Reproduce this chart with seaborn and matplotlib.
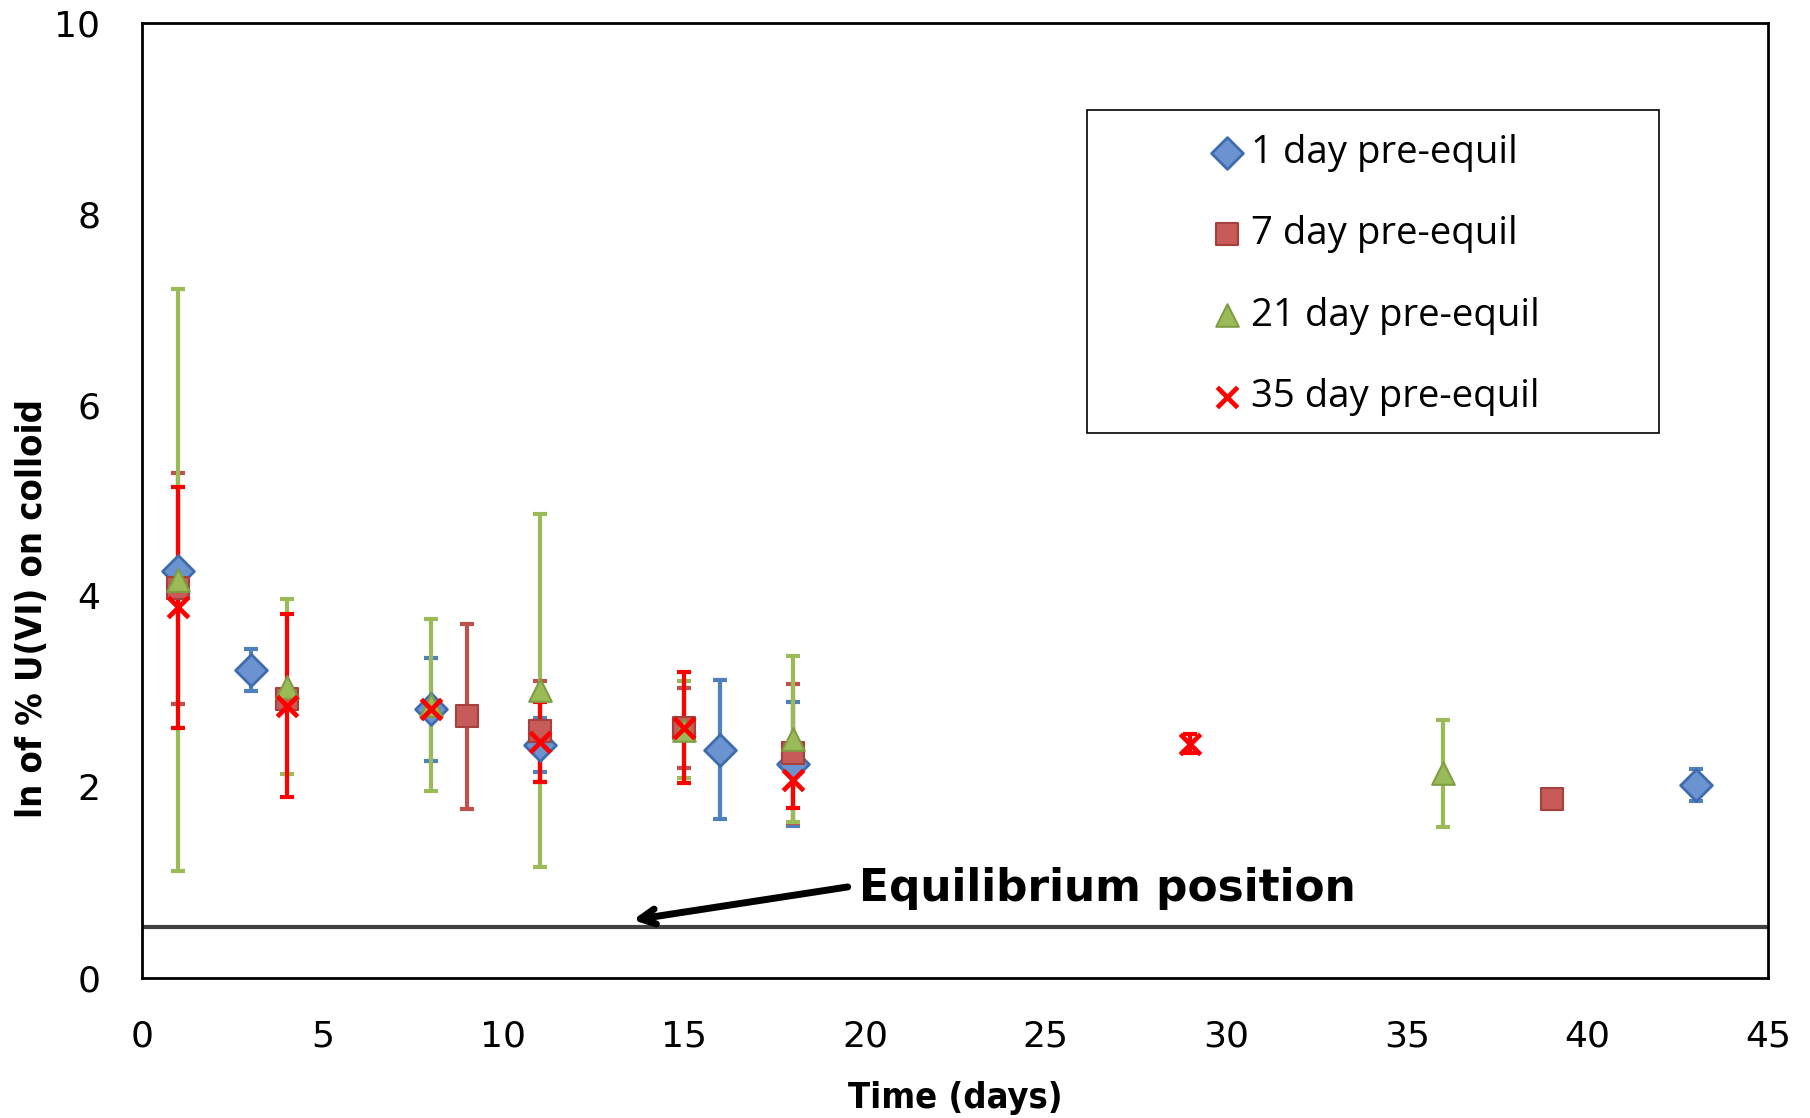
import matplotlib
matplotlib.use("Agg")
import matplotlib.pyplot as plt
from matplotlib.patches import Rectangle
import seaborn as sns
import pandas as pd

# ---- data ----
series_names = ["1 day pre-equil", "7 day pre-equil", "21 day pre-equil", "35 day pre-equil"]

days_1 = [1, 3, 8, 11, 16, 18, 43]
vals_1 = [4.26, 3.22, 2.81, 2.44, 2.39, 2.24, 2.02]
errs_1 = [0.08, 0.22, 0.54, 0.28, 0.73, 0.65, 0.17]

days_7 = [1, 4, 9, 11, 15, 18, 39]
vals_7 = [4.08, 2.92, 2.74, 2.58, 2.62, 2.35, 1.87]
errs_7 = [1.21, 0.08, 0.97, 0.53, 0.42, 0.73, 0.05]

days_21 = [1, 4, 8, 11, 15, 18, 36]
vals_21 = [4.17, 3.05, 2.86, 3.01, 2.60, 2.50, 2.14]
errs_21 = [3.05, 0.92, 0.90, 1.85, 0.51, 0.87, 0.56]

days_35 = [1, 4, 8, 11, 15, 18, 29]
vals_35 = [3.88, 2.85, 2.82, 2.47, 2.62, 2.07, 2.45]
errs_35 = [1.26, 0.96, 0.05, 0.42, 0.58, 0.29, 0.10]

equilibrium = 0.53
x_ticks = [0, 5, 10, 15, 20, 25, 30, 35, 40, 45]
y_ticks = [0, 2, 4, 6, 8, 10]

# ---- style ----
sns.set_theme(style="white")
plt.rcParams["font.family"] = ["DejaVu Sans"]
plt.rcParams["text.color"] = "black"

fig = plt.figure(figsize=(18.10, 11.18), dpi=100)
ax = fig.add_axes([0.0785, 0.1255, 0.8985, 0.8538])

styles = [
    dict(marker="D", s=262, fc="#6A93CF", ec="#3E6CAE", lw=2.0, bar="#4F81BD"),
    dict(marker="s", s=240, fc="#C65B58", ec="#A5403D", lw=1.5, bar="#C0504D"),
    dict(marker="^", s=265, fc="#9BBB59", ec="#7F9E44", lw=1.5, bar="#9BBB59"),
    dict(marker="x", s=215, fc="#FF0000", ec="#FF0000", lw=3.4, bar="#FF0000"),
]

all_days = [days_1, days_7, days_21, days_35]
all_vals = [vals_1, vals_7, vals_21, vals_35]
all_errs = [errs_1, errs_7, errs_21, errs_35]

# error bars first (beneath all markers)
for d, v, e, st in zip(all_days, all_vals, all_errs, styles):
    ax.errorbar(d, v, yerr=e, fmt="none", ecolor=st["bar"], elinewidth=3,
                capsize=5, capthick=3, zorder=2)

# markers
for name, d, v, st in zip(series_names, all_days, all_vals, styles):
    df = pd.DataFrame({"day": d, "val": v})
    if st["marker"] == "x":
        sns.scatterplot(data=df, x="day", y="val", marker="x", s=st["s"],
                        color=st["fc"], linewidth=st["lw"], label=name,
                        ax=ax, zorder=4)
    else:
        sns.scatterplot(data=df, x="day", y="val", marker=st["marker"], s=st["s"],
                        color=st["fc"], edgecolor=st["ec"], linewidth=st["lw"],
                        label=name, ax=ax, zorder=3)

ax.axhline(equilibrium, color="#404040", lw=3, zorder=1)

ax.annotate("", xy=(13.5, 0.60), xytext=(19.6, 0.955),
            arrowprops=dict(arrowstyle="->,head_length=0.9,head_width=0.45",
                            color="black", lw=5))
ax.text(19.85, 0.93, "Equilibrium position", fontsize=31.6, fontweight="bold",
        ha="left", va="center", color="black")

ax.set_xlim(0, 45)
ax.set_ylim(0, 10)
ax.set_xticks(x_ticks)
ax.set_yticks(y_ticks)
ax.tick_params(axis="both", length=0, labelsize=26, colors="black")
ax.tick_params(axis="x", pad=30)
ax.tick_params(axis="y", pad=30)
ax.set_xlabel("Time (days)", fontsize=26, fontweight="bold", fontstretch="condensed",
              color="black")
ax.set_ylabel("ln of % U(VI) on colloid", fontsize=26, fontweight="bold",
              fontstretch="condensed", color="black")
ax.xaxis.set_label_coords(0.5, -0.108)
ax.yaxis.set_label_coords(-0.057, 0.387)
for sp in ax.spines.values():
    sp.set_visible(True)
    sp.set_color("black")
    sp.set_linewidth(2)
ax.grid(False)

# legend
leg = ax.legend(loc="upper left", bbox_to_anchor=(0.6552, 0.884), frameon=False,
                prop={"family": "Open Sans", "size": 27.6}, handlelength=1.0,
                handletextpad=0.12, labelspacing=1.13, borderpad=0, borderaxespad=0)
for t in leg.get_texts():
    t.set_color("black")
ax.add_patch(Rectangle((0.581, 0.5706), 0.352, 0.3384, transform=ax.transAxes,
                       fill=False, edgecolor="black", lw=1.2, zorder=5))

fig.savefig("out.png", dpi=100)
